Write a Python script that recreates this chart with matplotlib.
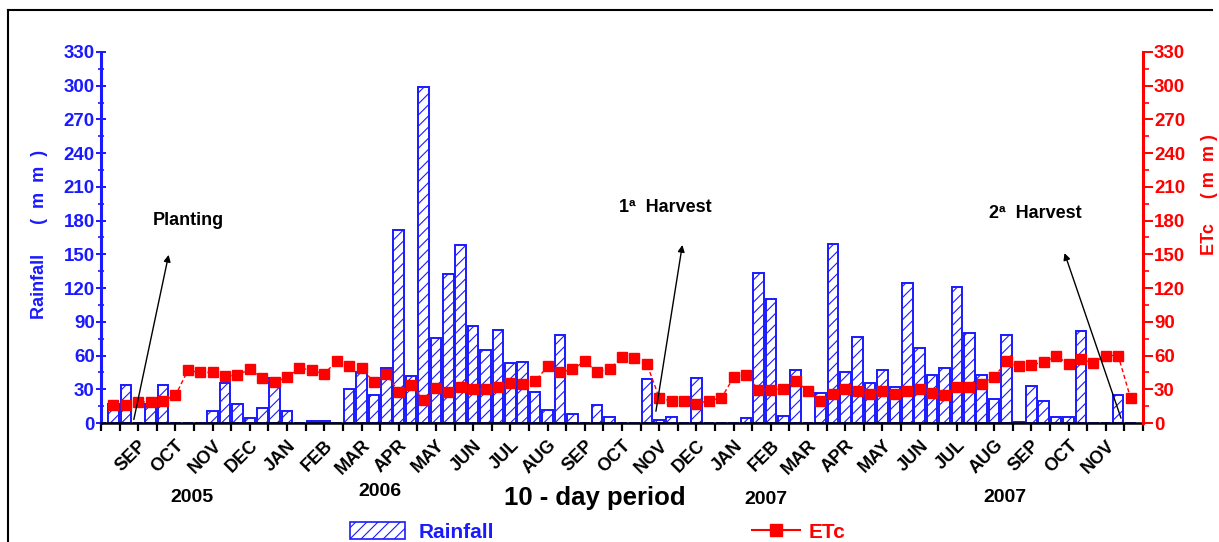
import matplotlib
matplotlib.use('Agg')
import matplotlib.pyplot as plt
import numpy as np
from matplotlib.patches import Patch
from matplotlib.lines import Line2D

months = ['SEP', 'OCT', 'NOV', 'DEC', 'JAN', 'FEB', 'MAR', 'APR', 'MAY', 'JUN', 'JUL', 'AUG',
          'SEP', 'OCT', 'NOV', 'DEC', 'JAN', 'FEB', 'MAR', 'APR', 'MAY', 'JUN', 'JUL', 'AUG',
          'SEP', 'OCT', 'NOV']
years = ['2005', '2006', '2007', '2007']

rainfall = [17, 34, 0, 17, 34, 0, 0, 0, 11, 36,
            17, 4.3, 13, 40, 11, 0, 1.5, 1.5, 0, 30,
            45, 24.5, 49, 172, 41.5, 298.5, 76, 132.5, 158, 86,
            64.5, 82.3, 53, 54, 27.4, 11.7, 78.7, 8, 0, 15.6,
            5.2, 0, 0, 39.3, 2.8, 5.2, 0, 40, 0, 0,
            0, 4.3, 133.6, 110.5, 6, 47.5, 0, 27, 159.5, 45.2,
            76.3, 36, 46.7, 32, 124.7, 67, 42.3, 48.8, 120.8, 80,
            42.9, 21, 78.7, 1, 32.5, 20, 5.2, 5.2, 81.4, 0,
            0, 24.5, 0]

etc = [15.6, 16, 19, 18.5, 20, 24.5, 46.7, 45, 45, 41.4,
       42.9, 47.6, 39.9, 36.3, 40.7, 49.1, 46.7, 43.8, 55, 50.3,
       48.8, 36.3, 43.8, 27.4, 34, 20.9, 31, 28, 31.9, 29.8,
       29.8, 31.9, 35.4, 34.9, 37.2, 50.3, 45.2, 47.6, 55, 45.2,
       48.2, 58.5, 57.7, 52.7, 22.4, 19.4, 20, 17, 20, 22,
       40.7, 43.1, 29.5, 29.5, 30.4, 37.5, 28.3, 19.4, 26, 30.4,
       28.3, 26, 28.3, 26, 28.3, 29.8, 26.9, 25, 31.9, 31.9,
       34.9, 40.7, 55, 50.3, 51.8, 54.1, 59.4, 52.7, 56.5, 53.6,
       60, 60, 22]

BLUE = '#1a1aff'
RED = '#ff0000'
W, H = 1219, 542

plt.rcParams['font.family'] = ['Liberation Sans', 'DejaVu Sans']
plt.rcParams['hatch.linewidth'] = 0.8

fig = plt.figure(figsize=(W / 100, H / 100), dpi=100)
ax = fig.add_axes([101 / W, 1 - 423 / H, (1143 - 101) / W, (423 - 52) / H])

x = np.arange(len(rainfall))
ax.bar(x, rainfall, width=0.85, facecolor='white', edgecolor=BLUE, hatch='///',
       linewidth=1.4, zorder=2)

ax2 = ax.twinx()
ax2.plot(x, etc, color=RED, ls=(0, (3, 2)), lw=1.0, marker='s', ms=7,
         mfc=RED, mec=RED, zorder=3)

ax.set_xlim(-1, 83)
ax.set_ylim(0, 330)
ax2.set_ylim(0, 330)

# x ticks
major_pos = np.arange(-1, 84, 3)
labels = [''] + months + ['']
ax.set_xticks(major_pos)
ax.set_xticklabels(labels, rotation=45, ha='right', va='top', rotation_mode='anchor',
                   fontsize=13, fontweight='bold')
ax.set_xticks(np.arange(0.5, 83, 3), minor=True)
ax.tick_params(axis='x', which='both', direction='out', length=6, width=1.6, color='black', pad=4)

# y ticks
ax.set_yticks(np.arange(0, 331, 30))
ax.set_yticks(np.arange(15, 330, 30), minor=True)
ax.tick_params(axis='y', which='major', direction='inout', length=7, width=1.4, colors=BLUE,
               labelsize=13.5, pad=1)
ax.tick_params(axis='y', which='minor', direction='inout', length=4, width=1.2, colors=BLUE)
for t in ax.get_yticklabels():
    t.set_fontweight('bold')

ax2.set_yticks(np.arange(0, 331, 30))
ax2.set_yticks(np.arange(15, 330, 30), minor=True)
ax2.tick_params(axis='y', which='major', direction='out', length=7, width=1.4, colors=RED,
                labelsize=13.5, pad=1)
ax2.tick_params(axis='y', which='minor', direction='out', length=4, width=1.2, colors=RED)
for t in ax2.get_yticklabels():
    t.set_fontweight('bold')

for a in (ax, ax2):
    a.spines['top'].set_visible(False)
ax.spines['left'].set_color(BLUE)
ax.spines['left'].set_linewidth(2.2)
ax.spines['bottom'].set_color('black')
ax.spines['bottom'].set_linewidth(1.8)
ax.spines['right'].set_visible(False)
ax2.spines['left'].set_visible(False)
ax2.spines['bottom'].set_visible(False)
ax2.spines['right'].set_color(RED)
ax2.spines['right'].set_linewidth(2.2)

# axis labels
fig.text(40 / W, 1 - 234 / H, 'Rainfall      (  m  m  )', rotation=90, color=BLUE,
         fontsize=13, fontweight='bold', ha='center', va='center')
fig.text(1210 / W, 1 - 195 / H, 'ETc     ( m  m )', rotation=90, color=RED,
         fontsize=13, fontweight='bold', ha='center', va='center')
fig.text(595 / W, 1 - 498 / H, '10 - day period', fontsize=18.5, fontweight='bold',
         ha='center', va='center')

year_pos = [(192, 497), (380, 492), (766, 500), (1005, 498)]
for yr, (px, py) in zip(years, year_pos):
    fig.text(px / W, 1 - py / H, yr, fontsize=14, fontweight='bold', ha='center', va='center')

# annotations
arrow = dict(arrowstyle='-|>', color='black', lw=1.0, mutation_scale=10)
ax2.annotate('', xy=(4.5, 152), xytext=(1.6, 0.7), arrowprops=arrow)
ax2.annotate('', xy=(45.9, 160.8), xytext=(43.7, 8), arrowprops=arrow)
ax2.annotate('', xy=(76.6, 153.5), xytext=(81.3, 2), arrowprops=arrow)
ax2.text(6.0, 180, 'Planting', fontsize=13, fontweight='bold', ha='center', va='center')
ax2.text(44.5, 191.7, '1ª  Harvest', fontsize=13, fontweight='bold', ha='center', va='center')
ax2.text(74.3, 186.4, '2ª  Harvest', fontsize=13, fontweight='bold', ha='center', va='center')

# legends
h1 = Patch(facecolor='white', edgecolor=BLUE, hatch='///', linewidth=1.2)
h2 = Line2D([], [], color=RED, lw=1.5, marker='s', ms=8, mfc=RED, mec=RED)
leg1 = fig.legend([h1], ['Rainfall'], loc='center left', bbox_to_anchor=(350 / W, 1 - 532 / H),
                  frameon=False, borderpad=0, borderaxespad=0, handlelength=2.65,
                  handleheight=0.87, handletextpad=0.62,
                  prop={'weight': 'bold', 'size': 15}, labelcolor=BLUE)
leg2 = fig.legend([h2], ['ETc'], loc='center left', bbox_to_anchor=(752 / W, 1 - 532 / H),
                  frameon=False, borderpad=0, borderaxespad=0, handlelength=2.3,
                  handletextpad=0.4, prop={'weight': 'bold', 'size': 15}, labelcolor=RED)

# outer frame (left and top edges)
fig.add_artist(Line2D([8 / W, 8 / W], [0, 1 - 10 / H], color='black', lw=1.5,
                      transform=fig.transFigure))
fig.add_artist(Line2D([8 / W, 1212 / W], [1 - 10 / H, 1 - 10 / H], color='black', lw=1.5,
                      transform=fig.transFigure))

fig.savefig('out.png', dpi=100)
